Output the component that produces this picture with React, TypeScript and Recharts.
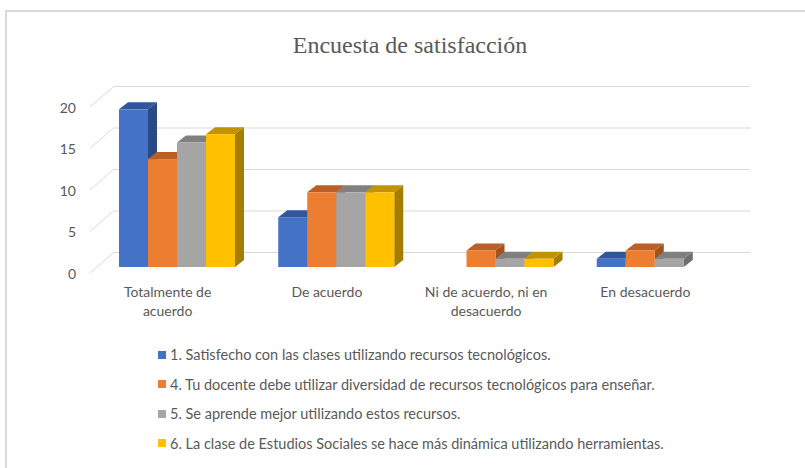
import React from 'react';
import { BarChart, Bar, XAxis, YAxis, CartesianGrid, Legend } from 'recharts';

const categories = ['Totalmente de acuerdo', 'De acuerdo', 'Ni de acuerdo, ni en desacuerdo', 'En desacuerdo'];
const categoryLines: Record<string, string[]> = {
  'Totalmente de acuerdo': ['Totalmente de', 'acuerdo'],
  'De acuerdo': ['De acuerdo'],
  'Ni de acuerdo, ni en desacuerdo': ['Ni de acuerdo, ni en', 'desacuerdo'],
  'En desacuerdo': ['En desacuerdo'],
};
const seriesNames = [
  '1. Satisfecho con las clases utilizando recursos tecnológicos.',
  '4. Tu docente debe utilizar diversidad de recursos tecnológicos para enseñar.',
  '5. Se aprende mejor utilizando estos recursos.',
  '6. La clase de Estudios Sociales se hace más dinámica utilizando herramientas.',
];
const serie1 = [19, 6, 0, 1];
const serie4 = [13, 9, 2, 2];
const serie5 = [15, 9, 1, 1];
const serie6 = [16, 9, 1, 0];
const yTicks = [0, 5, 10, 15, 20];
const title = 'Encuesta de satisfacción';

const data = categories.map((c, i) => ({
  name: c,
  s1: serie1[i],
  s4: serie4[i],
  s5: serie5[i],
  s6: serie6[i],
}));

const COLORS = [
  { front: '#4472C4', top: '#31569B', side: '#2A4A85' },
  { front: '#ED7D31', top: '#BA6026', side: '#A0521F' },
  { front: '#A5A5A5', top: '#808080', side: '#6E6E6E' },
  { front: '#FFC000', top: '#C29300', side: '#A67D00' },
];
const keys = ['s1', 's4', 's5', 's6'];

const FONT = 'Lato, "Open Sans", sans-serif';
const TEXT = '#595959';
const GRID = '#D9D9D9';
const DX = 9;
const DY = -7;

const make3D = (c: { front: string; top: string; side: string }) => (props: any) => {
  const { x, y, width, height } = props;
  if (!height || height <= 0) return <g />;
  const top = `${x},${y} ${x + DX},${y + DY} ${x + width + DX},${y + DY} ${x + width},${y}`;
  const side = `${x + width},${y} ${x + width + DX},${y + DY} ${x + width + DX},${y + height + DY} ${x + width},${y + height}`;
  return (
    <g>
      <polygon points={side} fill={c.side} />
      <polygon points={top} fill={c.top} />
      <rect x={x} y={y} width={width} height={height} fill={c.front} />
    </g>
  );
};

const gridLine = (p: any) => {
  const { x1, x2, y1 } = p;
  const bx = 16.5;
  const by = -14.5;
  return (
    <g>
      <line x1={x1 + bx} y1={y1 + by} x2={x2 + bx} y2={y1 + by} stroke={GRID} strokeWidth={1} />
      <line x1={x1 - 7} y1={y1 + 6} x2={x1 + bx} y2={y1 + by} stroke={GRID} strokeWidth={1} />
    </g>
  );
};

const YTick = (props: any) => {
  const { x, y, payload } = props;
  return (
    <text x={x} y={y + 6} textAnchor="end" dominantBaseline="central" fill={TEXT} fontSize={14} fontFamily={FONT}>
      {payload.value}
    </text>
  );
};

const XTick = (props: any) => {
  const { x, y, payload } = props;
  const lines = categoryLines[payload.value] || [payload.value];
  return (
    <text x={x - 9} y={y} textAnchor="middle" fill={TEXT} fontSize={14} fontFamily={FONT}>
      {lines.map((l, i) => (
        <tspan key={i} x={x - 9} dy={i === 0 ? 0 : 19}>
          {l}
        </tspan>
      ))}
    </text>
  );
};

const LegendContent = (props: any) => {
  const { payload } = props;
  return (
    <div style={{ fontFamily: FONT, fontSize: 14.5, color: TEXT }}>
      {(payload || []).map((e: any, i: number) => (
        <div key={i} style={{ height: 29.5, display: 'flex', alignItems: 'center', whiteSpace: 'nowrap' }}>
          <span style={{ display: 'inline-block', width: 8, height: 8, background: e.color, marginRight: 4 }} />
          <span>{e.value}</span>
        </div>
      ))}
    </div>
  );
};

export default function App() {
  return (
    <div style={{ position: 'absolute', left: 0, top: 0, width: 805, height: 468, overflow: 'hidden', background: '#fff' }}>
      <div
        style={{
          position: 'absolute',
          left: 5,
          top: 10,
          width: 830,
          height: 500,
          border: '2px solid #D9D9D9',
          boxSizing: 'border-box',
        }}
      />
      <div
        style={{
          position: 'absolute',
          left: 0,
          width: 820,
          top: 29,
          textAlign: 'center',
          fontFamily: '"Liberation Serif", "Times New Roman", serif',
          fontSize: 24,
          lineHeight: '32px',
          color: TEXT,
        }}
      >
        {title}
      </div>
      <div style={{ position: 'absolute', left: 0, top: 0 }}>
        <BarChart
          width={805}
          height={468}
          data={data}
          margin={{ top: 101, bottom: 141, left: 57, right: 71 }}
          barGap={0}
          barSize={29}
        >
          <CartesianGrid vertical={false} horizontal={gridLine} />
          <XAxis
            dataKey="name"
            height={60}
            axisLine={false}
            tickLine={false}
            tickSize={0}
            tickMargin={30}
            interval={0}
            tick={<XTick />}
          />
          <YAxis
            width={40}
            domain={[0, 20]}
            ticks={yTicks}
            axisLine={false}
            tickLine={false}
            tickSize={0}
            tickMargin={21}
            interval={0}
            tick={<YTick />}
          />
          <Legend
            layout="vertical"
            align="center"
            verticalAlign="middle"
            content={<LegendContent />}
            wrapperStyle={{ left: 158, top: 340, width: 640, height: 120 }}
          />
          {keys.map((k, i) => (
            <Bar
              key={k}
              dataKey={k}
              name={seriesNames[i]}
              fill={COLORS[i].front}
              shape={make3D(COLORS[i])}
              isAnimationActive={false}
            />
          ))}
        </BarChart>
      </div>
    </div>
  );
}
